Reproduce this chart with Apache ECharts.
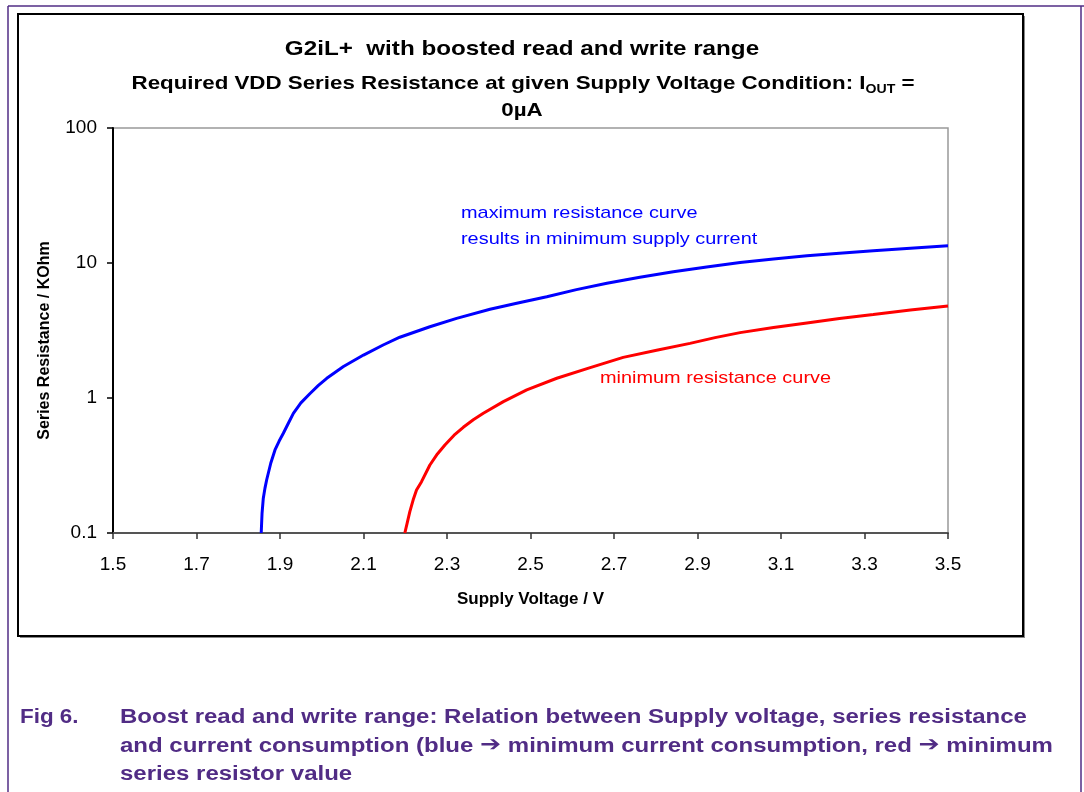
<!DOCTYPE html>
<html>
<head>
<meta charset="utf-8">
<script src="https://cdn.jsdelivr.net/npm/echarts@6/dist/echarts.min.js"></script>
<style>
html,body{margin:0;padding:0;background:#fff;}
#chart{width:1084px;height:792px;}
</style>
</head>
<body>
<div id="chart"></div>
<script>
// ---- data ----
const blueVoltage = [1.855, 1.857, 1.860, 1.864, 1.868, 1.878, 1.888, 1.898, 1.908, 1.920, 1.932, 1.950, 1.972, 1.992, 2.012, 2.052, 2.100, 2.147, 2.187, 2.259, 2.323, 2.403, 2.467, 2.539, 2.610, 2.683, 2.762, 2.842, 2.922, 3.002, 3.082, 3.162, 3.240, 3.321, 3.410, 3.5];
const blueResistance = [0.1, 0.14, 0.181, 0.215, 0.247, 0.33, 0.412, 0.48, 0.548, 0.65, 0.77, 0.92, 1.08, 1.24, 1.40, 1.71, 2.08, 2.47, 2.82, 3.37, 3.89, 4.54, 5.03, 5.63, 6.35, 7.07, 7.85, 8.62, 9.35, 10.1, 10.7, 11.3, 11.8, 12.3, 12.85, 13.4];
const redVoltage = [2.199, 2.205, 2.211, 2.219, 2.227, 2.239, 2.259, 2.277, 2.295, 2.317, 2.339, 2.363, 2.387, 2.435, 2.491, 2.563, 2.643, 2.722, 2.802, 2.882, 2.942, 3.002, 3.082, 3.162, 3.240, 3.321, 3.410, 3.5];
const redResistance = [0.1, 0.12, 0.144, 0.176, 0.208, 0.24, 0.319, 0.385, 0.449, 0.53, 0.607, 0.69, 0.77, 0.94, 1.15, 1.40, 1.68, 2.0, 2.26, 2.54, 2.8, 3.05, 3.33, 3.6, 3.88, 4.15, 4.48, 4.8];
const xTickValues = [1.5, 1.7, 1.9, 2.1, 2.3, 2.5, 2.7, 2.9, 3.1, 3.3, 3.5];
const yTickValues = [0.1, 1, 10, 100];

const purple = '#512C85';
const font = '"Liberation Sans", Arial, sans-serif';

const chart = echarts.init(document.getElementById('chart'), null, {renderer: 'canvas'});

function txt(x, y, text, fontSpec, fill, align, sx) {
  return {type: 'text', x: x, y: y, z: 10, scaleX: sx, scaleY: 1,
    style: {text: text, textAlign: align, textVerticalAlign: 'middle', font: fontSpec + ' ' + font, fill: fill}};
}

const captionRich = {
  a: {fontFamily: '"DejaVu Sans", sans-serif', fontWeight: 'bold', fontSize: 21, fill: purple, color: purple}
};

const option = {
  backgroundColor: '#fff',
  animation: false,
  grid: {
    left: 113, top: 128, right: 136, bottom: 259,
    show: true, borderColor: '#999', borderWidth: 1.5, backgroundColor: '#fff'
  },
  xAxis: {
    type: 'value', min: 1.5, max: 3.5,
    name: 'Supply Voltage / V', nameLocation: 'middle', nameGap: 58,
    nameTextStyle: {fontFamily: font, fontWeight: 'bold', fontSize: 17, color: '#000'},
    axisLine: {show: true, lineStyle: {color: '#555', width: 2}},
    axisTick: {show: true, length: 6, lineStyle: {color: '#333', width: 1.5}, customValues: xTickValues},
    axisLabel: {customValues: xTickValues, fontFamily: font, fontSize: 19, color: '#000', margin: 22,
      formatter: v => v.toFixed(1)},
    splitLine: {show: false}
  },
  yAxis: {
    type: 'log', logBase: 10, min: 0.1, max: 100,
    name: 'Series Resistance / KOhm', nameLocation: 'middle', nameGap: 60,
    nameTextStyle: {fontFamily: font, fontWeight: 'bold', fontSize: 16, color: '#000', padding: [0, 20, 0, 0]},
    axisLine: {show: true, lineStyle: {color: '#000', width: 2}},
    axisTick: {show: true, length: 6, lineStyle: {color: '#000', width: 1.5}},
    minorTick: {show: false},
    axisLabel: {fontFamily: font, fontSize: 19, color: '#000', margin: 16,
      formatter: v => (yTickValues.indexOf(+v) >= 0 ? String(+v) : '')},
    splitLine: {show: false}
  },
  series: [
    {
      type: 'line', name: 'maximum resistance curve', showSymbol: false,
      smooth: false,
      lineStyle: {color: '#0000FF', width: 3},
      data: blueVoltage.map((v, i) => [v, blueResistance[i]])
    },
    {
      type: 'line', name: 'minimum resistance curve', showSymbol: false,
      smooth: false,
      lineStyle: {color: '#FF0000', width: 3},
      data: redVoltage.map((v, i) => [v, redResistance[i]])
    }
  ],
  graphic: [
    // page frame lines
    {type: 'line', shape: {x1: 8, y1: 6, x2: 1084, y2: 6}, style: {stroke: purple, lineWidth: 1.5}, z: -10},
    {type: 'line', shape: {x1: 8, y1: 6, x2: 8, y2: 792}, style: {stroke: purple, lineWidth: 1.5}, z: -10},
    {type: 'line', shape: {x1: 1081, y1: 6, x2: 1081, y2: 792}, style: {stroke: purple, lineWidth: 1.5}, z: -10},
    // chart box with shadow
    {type: 'rect', shape: {x: 20, y: 16, width: 1005, height: 622}, style: {fill: '#888', stroke: null}, z: -9},
    {type: 'rect', shape: {x: 18, y: 14, width: 1005, height: 622}, style: {fill: '#fff', stroke: '#000', lineWidth: 2}, z: -8},
    // titles
    txt(522, 49, 'G2iL+  with boosted read and write range', 'bold 21px', '#000', 'center', 1.153),
    {type: 'text', x: 523, y: 85, z: 10, scaleX: 1.175, scaleY: 1, style: {
      text: '{t|Required VDD Series Resistance at given Supply Voltage Condition: I}{s|OUT}{t| =}',
      textAlign: 'center', textVerticalAlign: 'middle',
      rich: {
        t: {fontFamily: font, fontWeight: 'bold', fontSize: 19, fill: '#000', color: '#000', verticalAlign: 'top', lineHeight: 22},
        s: {fontFamily: font, fontWeight: 'bold', fontSize: 12, fill: '#000', color: '#000', verticalAlign: 'bottom', lineHeight: 22}
      }
    }},
    txt(522, 111, '0µA', 'bold 19px', '#000', 'center', 1.175),
    // curve annotations
    txt(461, 213, 'maximum resistance curve', '17px', '#0000FF', 'left', 1.17),
    txt(461, 239, 'results in minimum supply current', '17px', '#0000FF', 'left', 1.17),
    txt(600, 378, 'minimum resistance curve', '17px', '#FF0000', 'left', 1.17),
    // caption
    txt(20, 717, 'Fig 6.', 'bold 20px', purple, 'left', 1.12),
    txt(120, 717, 'Boost read and write range: Relation between Supply voltage, series resistance', 'bold 20px', purple, 'left', 1.2),
    {type: 'text', x: 120, y: 746, z: 10, scaleX: 1.2, scaleY: 1, style: {
      text: 'and current consumption (blue {a|\u2794} minimum current consumption, red {a|\u2794} minimum',
      textAlign: 'left', textVerticalAlign: 'middle', font: 'bold 20px ' + font, fill: purple, rich: captionRich}},
    txt(120, 774, 'series resistor value', 'bold 20px', purple, 'left', 1.2)
  ]
};
chart.setOption(option);
</script>
</body>
</html>
